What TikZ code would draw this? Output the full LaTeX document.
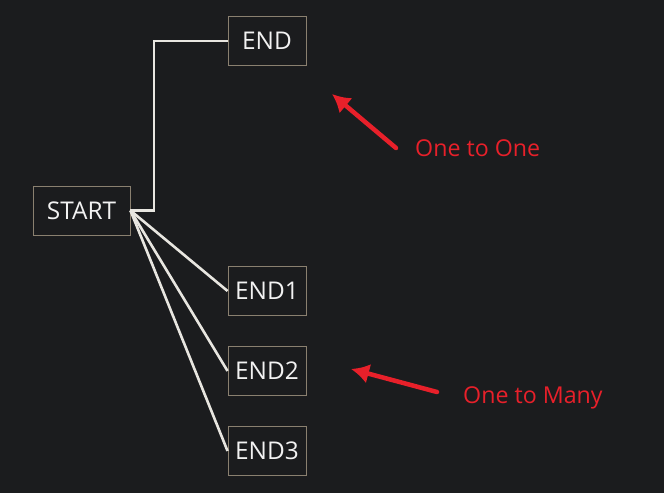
\documentclass[tikz,border=0pt]{standalone}
\usepackage{fontspec}
\setmainfont{Open Sans}
\usetikzlibrary{arrows.meta}
\definecolor{bg}{HTML}{1B1C1E}
\definecolor{boxline}{HTML}{8A8070}
\definecolor{wire}{HTML}{E8E6E0}
\definecolor{redc}{HTML}{E8202A}
\definecolor{txt}{HTML}{F2F2F2}
\tikzset{
  box/.style={draw=boxline, line width=0.9bp, minimum height=49bp, inner sep=0pt, text=txt, font=\fontsize{24.5}{28}\selectfont},
  wirel/.style={draw=wire, line width=2.6bp},
  redarrow/.style={draw=redc, line width=4.5bp, line cap=round, -{Latex[length=18bp,width=20bp]}},
  redlabel/.style={text=redc, font=\fontsize{23.3}{27}\selectfont, anchor=west, inner sep=0pt}
}
\begin{document}
\begin{tikzpicture}[x=1bp,y=1bp]
\fill[bg] (0,0) rectangle (664,493);
\useasboundingbox (0,0) rectangle (664,493);
\node[box, minimum width=97bp] (start) at (81.5,282.5) {START};
\node[box, minimum width=78bp] (end) at (267,452) {END};
\node[box, minimum width=78bp] (end1) at (267,202) {END1};
\node[box, minimum width=78bp] (end2) at (267,122) {END2};
\node[box, minimum width=78bp] (end3) at (267,42) {END3};
\draw[wirel] (start.east) -| (154,452) -- (end.west);
\draw[wirel] (start.east) -- (end1.west);
\draw[wirel] (start.east) -- (end2.west);
\draw[wirel] (start.east) -- (end3.west);
\node[redlabel] (l1) at (415,345) {One to One};
\node[redlabel] (l2) at (463,95) {One to Many};
\coordinate (a1t) at (396,345);
\coordinate (a1h) at (332,399);
\coordinate (a2t) at (437,101);
\coordinate (a2h) at (351,124);
\draw[redarrow] (a1t) -- (a1h);
\draw[redarrow] (a2t) -- (a2h);
\end{tikzpicture}
\end{document}
